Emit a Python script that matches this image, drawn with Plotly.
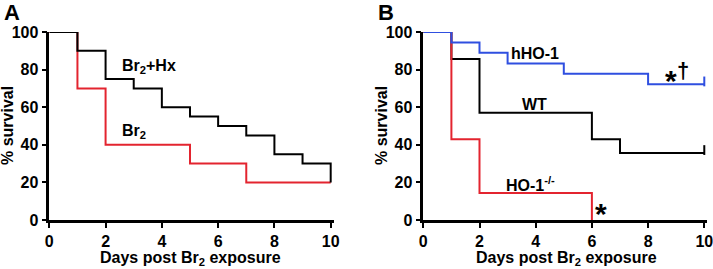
import plotly.graph_objects as go

# ---- data ----
days_hx = [0, 1, 2, 3, 4, 5, 6, 7, 8, 9, 10]
surv_hx = [100, 90, 75, 70, 60, 55, 50, 45, 35, 30, 20]
days_br2 = [0, 1, 2, 5, 7, 10]
surv_br2 = [100, 70, 40, 30, 20, 20]

days_hho = [0, 1, 2, 3, 5, 8, 10]
surv_hho = [100, 94.4, 88.9, 83.3, 77.8, 72.2, 72.2]
days_wt = [0, 1, 2, 6, 7, 10]
surv_wt = [100, 85.7, 57.1, 42.9, 35.7, 35.7]
days_ko = [0, 1, 2, 6]
surv_ko = [100, 42.9, 14.3, 0]

x_ticks = [0, 2, 4, 6, 8, 10]
y_ticks = [0, 20, 40, 60, 80, 100]

RED = "#e3242f"
BLUE = "#2f4fe0"
BLACK = "#000000"
FONT = "Liberation Sans, Arial, sans-serif"

W, H = 713, 269
fig = go.Figure()

def step(x, y, color, xa, ya):
    fig.add_trace(go.Scatter(x=x, y=y, mode="lines", line=dict(color=color, width=2, shape="hv"),
                             xaxis=xa, yaxis=ya, cliponaxis=False, showlegend=False, hoverinfo="skip"))

def censor(x, y, color, xa, ya):
    fig.add_trace(go.Scatter(x=[x], y=[y], mode="markers",
                             marker=dict(symbol="line-ns", size=7, line=dict(color=color, width=2)),
                             xaxis=xa, yaxis=ya, cliponaxis=False, showlegend=False, hoverinfo="skip"))

# Panel A
step(days_br2, surv_br2, RED, "x", "y")
step(days_hx, surv_hx, BLACK, "x", "y")
# Panel B
step(days_wt, surv_wt, BLACK, "x2", "y2")
censor(days_wt[-1], surv_wt[-1] + 1.5, BLACK, "x2", "y2")
step(days_ko, surv_ko, RED, "x2", "y2")
step(days_hho, surv_hho, BLUE, "x2", "y2")
censor(days_hho[-1], surv_hho[-1] + 1.5, BLUE, "x2", "y2")

y_dom = [(H - 220) / H, (H - 32) / H]
axis_common = dict(showgrid=False, zeroline=False, showline=True, linecolor="black", linewidth=2.5,
                   ticks="outside", ticklen=5, tickwidth=2, tickcolor="black", automargin=False,
                   ticklabeloverflow="allow",
                   tickfont=dict(family=FONT, size=16, color="black", weight="bold"))

fig.update_layout(
    width=W, height=H, margin=dict(l=0, r=0, t=0, b=0, autoexpand=False),
    paper_bgcolor="white", plot_bgcolor="white",
    xaxis=dict(domain=[49.3 / W, 333.5 / W], range=[0, 10.1], tickvals=x_ticks, anchor="y", **axis_common),
    yaxis=dict(domain=y_dom, range=[0, 100], tickvals=y_ticks, anchor="x", **axis_common),
    xaxis2=dict(domain=[423.3 / W, 707.1 / W], range=[0, 10.1], tickvals=x_ticks, anchor="y2", **axis_common),
    yaxis2=dict(domain=y_dom, range=[0, 100], tickvals=y_ticks, anchor="x2", **axis_common),
)

def txt(text, x, y, xref, yref, size=15, **kw):
    fig.add_annotation(text=text, x=x, y=y, xref=xref, yref=yref, showarrow=False,
                       xanchor="center", yanchor="middle",
                       font=dict(family=FONT, size=size, color="black", weight="bold"), **kw)

# axis titles
for cx, ylab_x in [(190, 8), (566, 382)]:
    txt("Days post Br<sub>2</sub> exposure", cx / W, (H - 258) / H, "paper", "paper", size=16)
    txt("% survival", ylab_x / W, (H - 126) / H, "paper", "paper", size=16, textangle=-90)

# panel letters
txt("A", 12 / W, (H - 12) / H, "paper", "paper", size=22)
txt("B", 386 / W, (H - 12) / H, "paper", "paper", size=22)

# series labels
txt("Br<sub>2</sub>+Hx", 3.56, 81.5, "x", "y", size=16)
txt("Br<sub>2</sub>", 3.0, 47, "x", "y", size=16)
txt("hHO-1", 3.96, 88.7, "x2", "y2", size=16)
txt("WT", 3.94, 61.7, "x2", "y2", size=16)
txt("HO-1<sup>-/-</sup>", 3.8, 19, "x2", "y2", size=16)
txt("*", 6.32, 3.5, "x2", "y2", size=30)
txt("*", 8.8, 74, "x2", "y2", size=30)
txt("†", 9.25, 79.5, "x2", "y2", size=22)

fig.write_html("out.html", config={"displayModeBar": False},
               post_script="document.body.style.margin='0';document.body.style.overflow='hidden';")
